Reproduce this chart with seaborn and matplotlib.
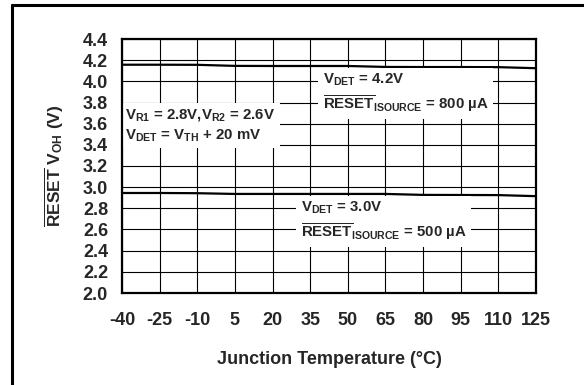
import numpy as np
import pandas as pd
import matplotlib
matplotlib.use('Agg')
import matplotlib.pyplot as plt
from matplotlib.lines import Line2D
import seaborn as sns

# data
temps = [-40, -25, -10, 5, 20, 35, 50, 65, 80, 95, 110, 125]
voh_42 = [4.157, 4.157, 4.156, 4.146, 4.145, 4.145, 4.145, 4.136, 4.135, 4.135, 4.134, 4.124]
voh_30 = [2.945, 2.945, 2.943, 2.936, 2.936, 2.936, 2.936, 2.936, 2.927, 2.926, 2.925, 2.915]
y_ticks = [2.0, 2.2, 2.4, 2.6, 2.8, 3.0, 3.2, 3.4, 3.6, 3.8, 4.0, 4.2, 4.4]

df = pd.DataFrame({
    'temp': temps * 2,
    'voh': voh_42 + voh_30,
    'series': ['4.2V'] * len(temps) + ['3.0V'] * len(temps),
})

sns.set_style('whitegrid')
plt.rcParams['font.family'] = ['Liberation Sans', 'DejaVu Sans']
plt.rcParams['font.weight'] = 'bold'
plt.rcParams['mathtext.fontset'] = 'custom'
plt.rcParams['mathtext.rm'] = 'Liberation Sans:weight=bold'
plt.rcParams['mathtext.it'] = 'Liberation Sans:weight=bold'
plt.rcParams['mathtext.bf'] = 'Liberation Sans:weight=bold'
plt.rcParams['mathtext.sf'] = 'Liberation Sans:weight=bold'

fig = plt.figure(figsize=(5.84, 3.85), dpi=100)
ax = fig.add_axes([122 / 584, 92 / 385, 414 / 584, 254 / 385])

sns.lineplot(data=df, x='temp', y='voh', hue='series', palette=['black', 'black'],
             linewidth=1.6, legend=False, ax=ax)

ax.set_xlim(-40, 125)
ax.set_ylim(2.0, 4.4)
ax.set_xticks(temps)
ax.set_xticklabels([str(t) for t in temps])
ax.set_yticks(y_ticks)
ax.set_yticklabels([f'{v:.1f}' for v in y_ticks])
ax.tick_params(axis='x', length=0, pad=14, labelsize=13)
ax.tick_params(axis='y', length=0, pad=10, labelsize=13)
for lab in ax.get_xticklabels() + ax.get_yticklabels():
    lab.set_fontweight('bold')

ax.grid(True, color='black', linewidth=0.8)
for sp in ax.spines.values():
    sp.set_visible(True)
    sp.set_color('black')
    sp.set_linewidth(1.6)

ax.set_xlabel('Junction Temperature (°C)', fontsize=13, fontweight='bold', va='top')
ax.xaxis.set_label_coords(0.5, -0.23)
ax.set_ylabel(r'$\overline{\mathrm{RESET}}$ $\mathrm{V_{OH}}$ (V)', fontsize=12.5, fontweight='bold')
ax.yaxis.set_label_coords(-0.135, 0.5)

box = dict(facecolor='white', edgecolor='none', boxstyle='square,pad=0.3')
ax.text(0.008, 0.659,
        r'$\mathrm{V_{R1}}$ = 2.8V,$\mathrm{V_{R2}}$ = 2.6V' + '\n' + r'$\mathrm{V_{DET}}$ = $\mathrm{V_{TH}}$ + 20 mV',
        transform=ax.transAxes, ha='left', va='center', fontsize=10.8, fontweight='bold',
        linespacing=1.35, bbox=box, zorder=2.2)
ax.text(0.485, 0.787,
        r'$\mathrm{V_{DET}}$ = 4.2V' + '\n' + r'$\overline{\mathrm{RESET}}_{\mathrm{ISOURCE}}$ = 800 µA',
        transform=ax.transAxes, ha='left', va='center', fontsize=10.8, fontweight='bold',
        linespacing=1.35, bbox=box, zorder=2.2)
ax.text(0.432, 0.2835,
        r'$\mathrm{V_{DET}}$ = 3.0V' + '\n' + r'$\overline{\mathrm{RESET}}_{\mathrm{ISOURCE}}$ = 500 µA',
        transform=ax.transAxes, ha='left', va='center', fontsize=10.8, fontweight='bold',
        linespacing=1.35, bbox=box, zorder=2.2)

# outer frame (only left and top edges visible)
fig.add_artist(Line2D([12 / 584, 12 / 584], [0, 1 - 5 / 385], color='black', linewidth=2.2))
fig.add_artist(Line2D([12 / 584, 1], [1 - 5 / 385, 1 - 5 / 385], color='black', linewidth=2.2))

fig.savefig('out.png', dpi=100)
